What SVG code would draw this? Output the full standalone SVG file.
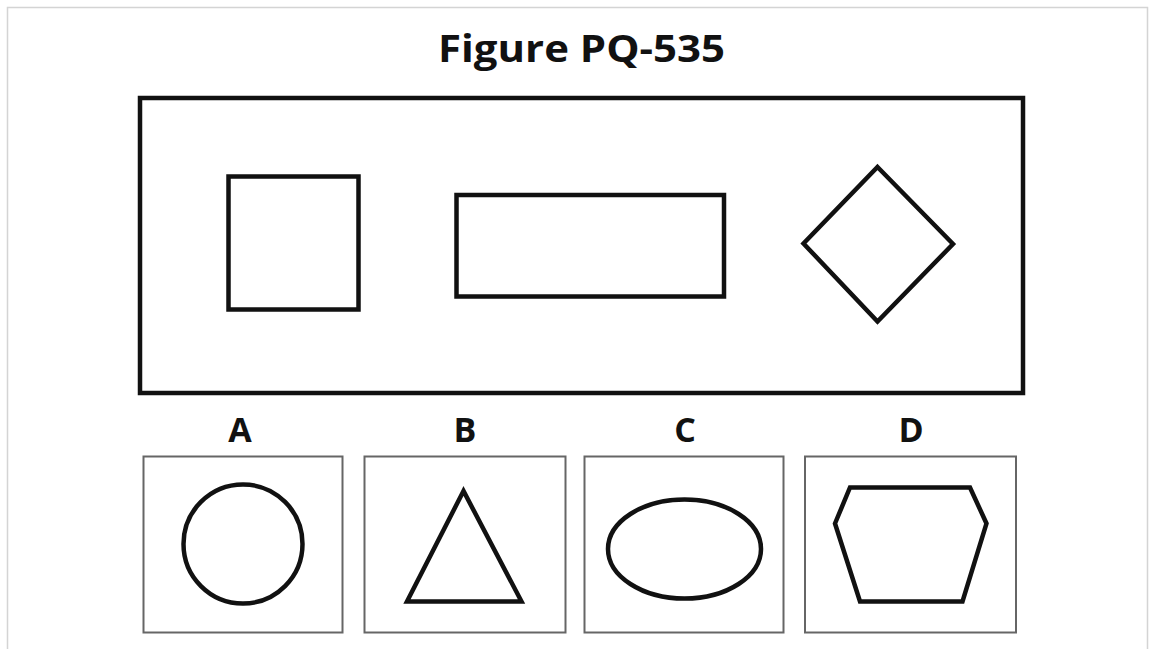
<svg xmlns="http://www.w3.org/2000/svg" width="1151" height="649" viewBox="0 0 1151 649">
<style>
.t{font-family:"Open Sans","Liberation Sans",sans-serif;font-weight:bold;fill:#111;text-anchor:middle}
.s{fill:none;stroke:#111;stroke-width:4.5}
.b{fill:none;stroke:#666;stroke-width:2}
</style>
<rect width="1151" height="649" fill="#fff"/>
<path d="M7.5,649 V7.5 H1147.5 V649" fill="none" stroke="#d4d4d4" stroke-width="1.5"/>
<text class="t" x="581.5" y="62" font-size="38" textLength="287" lengthAdjust="spacingAndGlyphs">Figure PQ-535</text>
<g id="figure">
<rect class="s" x="140" y="98" width="883" height="295"/>
<rect id="square" class="s" x="228.5" y="176.5" width="130" height="133"/>
<rect id="rectangle" class="s" x="456.5" y="195" width="267.5" height="101.5"/>
<polygon id="diamond" class="s" points="877.5,167 953,244 877.5,321.5 803.5,243.5"/>
</g>
<g id="optA">
<text class="t" x="240" y="442" font-size="34">A</text>
<rect class="b" x="143.5" y="456.5" width="199" height="176"/>
<circle class="s" cx="243" cy="544" r="59.5"/>
</g>
<g id="optB">
<text class="t" x="465" y="442" font-size="34">B</text>
<rect class="b" x="364.5" y="456.5" width="201" height="176"/>
<polygon class="s" points="463.5,491 407,601.5 521.5,601.5"/>
</g>
<g id="optC">
<text class="t" x="685" y="442" font-size="34">C</text>
<rect class="b" x="584.5" y="456.5" width="199" height="176"/>
<ellipse class="s" cx="684.5" cy="549" rx="76.5" ry="49.5"/>
</g>
<g id="optD">
<text class="t" x="911" y="442" font-size="34">D</text>
<rect class="b" x="805" y="456.5" width="211" height="176"/>
<polygon class="s" points="850,487.5 970,487.5 986.5,523.5 962.5,601.5 860,601.5 835,523.5"/>
</g>
<g id="connectors"/>
</svg>
